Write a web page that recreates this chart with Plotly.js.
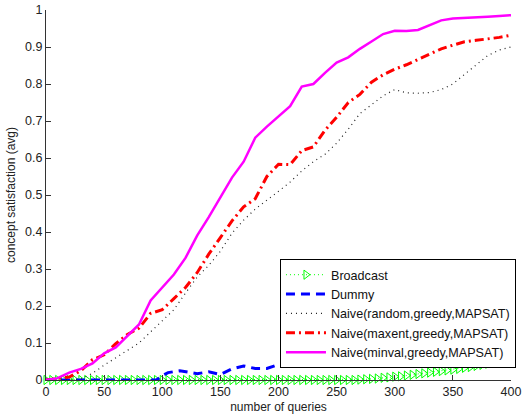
<!DOCTYPE html>
<html>
<head>
<meta charset="utf-8">
<script src="https://cdn.plot.ly/plotly-3.0.1.min.js"></script>
<style>html,body{margin:0;padding:0;background:#fff;}#chart{width:526px;height:418px;}</style>
</head>
<body>
<div id="chart"></div>
<script>
// x positions (number of queries)
const xLine = [0,10,20,30,40,50,60,70,80,90,100,110,120,130,140,150,160,170,180,190,200,
  210,220,230,240,250,260,270,280,290,300,310,320,330,340,350,360,370,380,390,400];

const minvalVals = [0,0.005,0.02,0.03,0.045,0.072,0.088,0.12,0.15,0.215,0.25,0.285,0.33,0.39,0.44,0.495,0.547,0.59,0.655,0.685,0.712,
  0.74,0.793,0.8,0.83,0.858,0.872,0.895,0.915,0.935,0.944,0.943,0.946,0.958,0.972,0.977,0.978,0.98,0.982,0.984,0.986];

const maxentVals = [0,0.003,0.008,0.025,0.055,0.068,0.098,0.123,0.14,0.18,0.19,0.22,0.25,0.29,0.34,0.385,0.43,0.468,0.49,0.55,0.583,
  0.582,0.62,0.63,0.675,0.71,0.75,0.772,0.805,0.825,0.84,0.852,0.866,0.882,0.895,0.905,0.914,0.918,0.921,0.926,0.932];

const randomVals = [0,0,0,0.003,0.018,0.04,0.06,0.08,0.1,0.13,0.16,0.19,0.235,0.278,0.31,0.348,0.397,0.432,0.462,0.485,0.51,
  0.535,0.565,0.59,0.61,0.64,0.678,0.72,0.745,0.768,0.785,0.776,0.775,0.777,0.785,0.8,0.826,0.852,0.877,0.892,0.9];

const dummyX = [0,20,40,60,80,95,100,105,115,125,130,140,150,160,170,180,190,200,210,230,250,280,310,340,370,400];
const dummyVals = [0,0,0,0,0,0,0.012,0.02,0.025,0.02,0.017,0.022,0.015,0.03,0.038,0.031,0.031,0.042,0.05,0.056,0.062,0.07,0.08,0.09,0.1,0.11];

const broadcastX = [0,5,10,15,20,25,30,35,40,45,50,55,60,65,70,75,80,85,90,95,100,105,110,115,120,125,130,135,140,145,150,
  155,160,165,170,175,180,185,190,195,200,205,210,215,220,225,230,235,240,245,250,255,260,265,270,275,280,285,290,295,300,
  305,310,315,320,325,330,335,340,345,350,355,360,365,370,375,380,385,390,395,400];
const broadcastVals = [0,0,0,0,0,0,0,0,0,0,0,0,0,0,0,0,0,0,0,0,0,0,0,0,0,0,0,0,0,0,0,
  0,0,0,0,0,0,0,0,0,0,0,0,0,0,0,0,0,0,0,0,0,0,0,0.001,0.002,0.003,0.004,0.006,0.007,0.009,
  0.01,0.012,0.014,0.016,0.018,0.02,0.022,0.024,0.026,0.028,0.03,0.033,0.035,0.038,0.041,0.044,0.047,0.05,0.053,0.056];

const names = ['Broadcast','Dummy','Naive(random,greedy,MAPSAT)','Naive(maxent,greedy,MAPSAT)','Naive(minval,greedy,MAPSAT)'];
const xTicks = [0,50,100,150,200,250,300,350,400];
const yTicks = [0,0.1,0.2,0.3,0.4,0.5,0.6,0.7,0.8,0.9,1];
const yTickText = ['0','0.1','0.2','0.3','0.4','0.5','0.6','0.7','0.8','0.9','1'];

const traces = [
  {x: broadcastX, y: broadcastVals, name: names[0], mode: 'lines+markers', cliponaxis: false,
   line: {color: '#00ff00', width: 1, dash: '1px,3px'},
   marker: {symbol: 'triangle-right-open', size: 8, color: '#00ff00', line: {width: 1, color: '#00ff00'}}},
  {x: dummyX, y: dummyVals, name: names[1], mode: 'lines', cliponaxis: false,
   line: {color: '#0000ff', width: 3, dash: '9px,6px'}},
  {x: xLine, y: randomVals, name: names[2], mode: 'lines', cliponaxis: false,
   line: {color: '#222222', width: 1.2, dash: '1px,4px'}},
  {x: xLine, y: maxentVals, name: names[3], mode: 'lines', cliponaxis: false,
   line: {color: '#ff0000', width: 3, dash: '9px,4px,2px,4px'}},
  {x: xLine, y: minvalVals, name: names[4], mode: 'lines', cliponaxis: false,
   line: {color: '#ff00ff', width: 2.5}}
];

const font = {family: 'Liberation Sans, Arial, sans-serif', size: 12, color: '#222'};

const layout = {
  width: 526, height: 418,
  margin: {l: 46, r: 13, t: 10, b: 38},
  paper_bgcolor: '#fff', plot_bgcolor: '#fff',
  font: font,
  showlegend: true,
  xaxis: {
    range: [0, 400], tickvals: xTicks, ticktext: xTicks.map(String),
    ticks: 'inside', ticklen: 5, tickcolor: '#333', showline: true, linecolor: '#333', linewidth: 1,
    showgrid: false, zeroline: false, mirror: false,
    tickfont: {family: font.family, size: 12.5, color: '#222'},
    title: {text: 'number of queries', font: {family: font.family, size: 12, color: '#222'}, standoff: 4}
  },
  yaxis: {
    range: [0, 1], tickvals: yTicks, ticktext: yTickText,
    ticks: 'inside', ticklen: 5, tickcolor: '#333', showline: true, linecolor: '#333', linewidth: 1,
    showgrid: false, zeroline: false, mirror: false,
    tickfont: {family: font.family, size: 12.5, color: '#222'},
    title: {text: 'concept satisfaction (avg)', font: {family: font.family, size: 12, color: '#222'}, standoff: 6}
  },
  legend: {
    x: 1.0107, y: 0.327, xanchor: 'right', yanchor: 'top',
    bgcolor: '#fff', bordercolor: '#000', borderwidth: 1,
    font: {family: font.family, size: 12.6, color: '#111'},
    itemwidth: 40,
    tracegroupgap: 0
  }
};

Plotly.newPlot('chart', traces, layout, {displayModeBar: false, staticPlot: true});
</script>
</body>
</html>
